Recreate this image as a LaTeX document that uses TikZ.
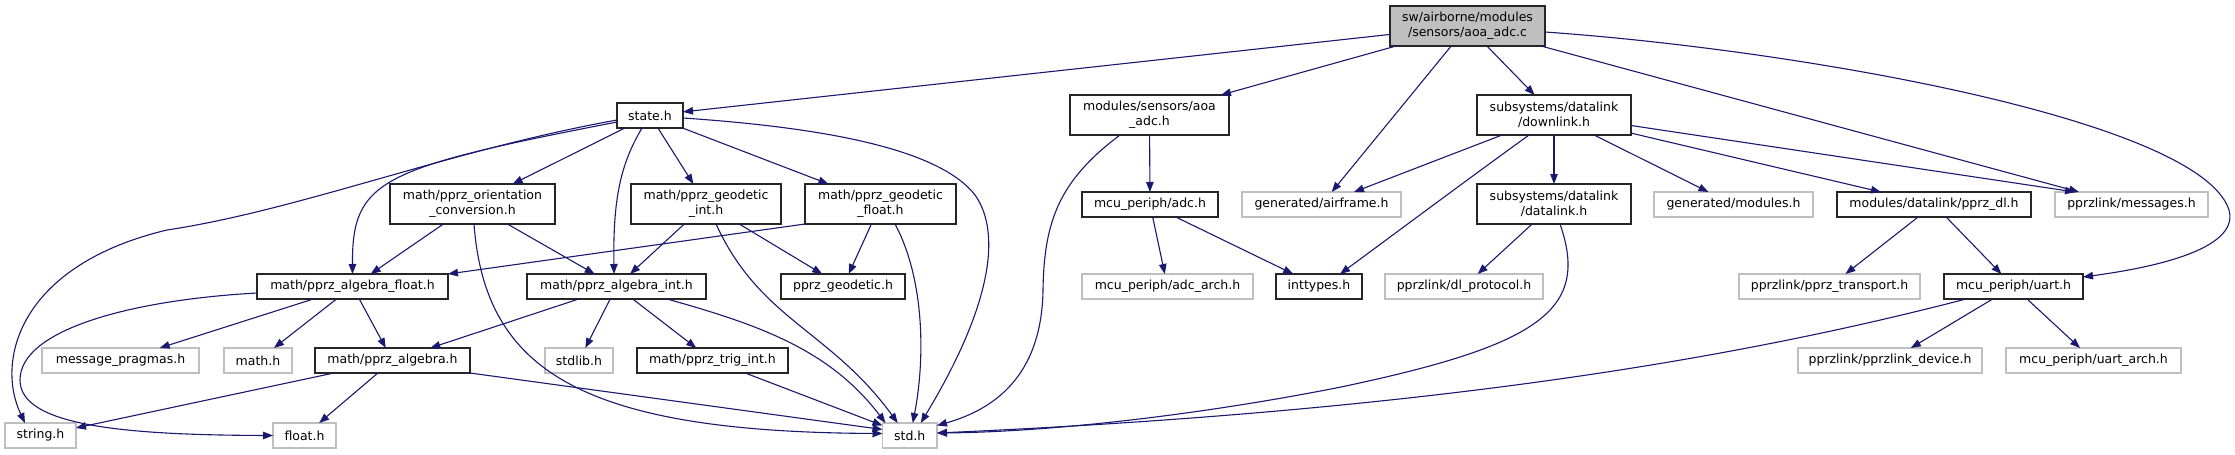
\documentclass[tikz,border=0pt]{standalone}
\usepackage{fontspec}
\setmainfont{DejaVu Sans}
\usetikzlibrary{arrows.meta}
\definecolor{edgec}{HTML}{191970}
\definecolor{greyb}{HTML}{BFBFBF}
\definecolor{rootfill}{HTML}{BFBFBF}
\begin{document}
\begin{tikzpicture}[x=1pt,y=-1pt,
  nodebox/.style={draw=black!85, line width=1.1pt, inner sep=0pt, outer sep=0pt, align=center,
    font=\fontsize{12.5}{14.6}\selectfont, text=black, minimum height=25pt},
  twoline/.style={minimum height=40pt},
  greybox/.style={nodebox, draw=greyb},
  rootbox/.style={nodebox, fill=rootfill, twoline},
  conn/.style={draw=edgec, line width=1.1pt, -{Triangle[length=10pt,width=7.5pt]}}
]
\path[use as bounding box, fill=white] (0,0) rectangle (2235,455);

% nodes
\node[rootbox, minimum width=155pt] (root) at (1467.5,26) {sw/airborne/modules\\/sensors/aoa\_adc.c};
\node[nodebox, minimum width=66pt] (state) at (650,115.5) {state.h};
\node[nodebox, twoline, minimum width=165pt] (orient) at (472.5,204) {math/pprz\_orientation\\\_conversion.h};
\node[nodebox, twoline, minimum width=150pt] (geoint) at (706,204) {math/pprz\_geodetic\\\_int.h};
\node[nodebox, twoline, minimum width=151pt] (geofloat) at (880.5,204) {math/pprz\_geodetic\\\_float.h};
\node[nodebox, minimum width=191pt] (algfloat) at (352.5,286.5) {math/pprz\_algebra\_float.h};
\node[nodebox, minimum width=179pt] (algint) at (616.5,286.5) {math/pprz\_algebra\_int.h};
\node[nodebox, minimum width=124pt] (geodetic) at (843,286.5) {pprz\_geodetic.h};
\node[greybox, minimum width=157pt] (msgprag) at (120.5,360.5) {message\_pragmas.h};
\node[greybox, minimum width=68pt] (mathh) at (258,360.5) {math.h};
\node[nodebox, minimum width=155pt] (alg) at (392.5,360.5) {math/pprz\_algebra.h};
\node[greybox, minimum width=68pt] (stdlib) at (579,360.5) {stdlib.h};
\node[nodebox, minimum width=151pt] (trig) at (712.5,360.5) {math/pprz\_trig\_int.h};
\node[greybox, minimum width=71pt] (string) at (40.5,435.5) {string.h};
\node[greybox, minimum width=63pt] (float) at (304.5,435.5) {float.h};
\node[greybox, minimum width=54.5pt] (std) at (909.75,435.5) {std.h};
\node[nodebox, twoline, minimum width=159pt] (aoaadc) at (1149.5,115) {modules/sensors/aoa\\\_adc.h};
\node[nodebox, minimum width=136pt] (adc) at (1150,204.5) {mcu\_periph/adc.h};
\node[greybox, minimum width=159pt] (airframe) at (1321.5,204.5) {generated/airframe.h};
\node[greybox, minimum width=171pt] (adcarch) at (1167.5,286.5) {mcu\_periph/adc\_arch.h};
\node[nodebox, minimum width=86pt] (inttypes) at (1319,286.5) {inttypes.h};
\node[nodebox, twoline, minimum width=154pt] (downlink) at (1554,115) {subsystems/datalink\\/downlink.h};
\node[nodebox, twoline, minimum width=154pt] (datalink) at (1554,204) {subsystems/datalink\\/datalink.h};
\node[greybox, minimum width=158pt] (dlproto) at (1464,286.5) {pprzlink/dl\_protocol.h};
\node[greybox, minimum width=159pt] (modules) at (1733.5,204.5) {generated/modules.h};
\node[nodebox, minimum width=194pt] (pprzdl) at (1934,204.5) {modules/datalink/pprz\_dl.h};
\node[greybox, minimum width=153pt] (messages) at (2131.5,204.5) {pprzlink/messages.h};
\node[greybox, minimum width=181pt] (transport) at (1829.5,286.5) {pprzlink/pprz\_transport.h};
\node[nodebox, minimum width=139pt] (uart) at (2013.5,286.5) {mcu\_periph/uart.h};
\node[greybox, minimum width=184pt] (device) at (1890,360.5) {pprzlink/pprzlink\_device.h};
\node[greybox, minimum width=175pt] (uartarch) at (2093.5,360.5) {mcu\_periph/uart\_arch.h};

% edges from root
\draw[conn] (root) -- (state);
\draw[conn] (root) -- (aoaadc);
\draw[conn] (root) -- (airframe);
\draw[conn] (root) -- (downlink);
\draw[conn] (root) -- ([xshift=24pt]messages.north west);
\draw[conn] ([yshift=-6pt]root.east) .. controls (1800,50) and (2200,120) .. (2229,210)
  .. controls (2240,250) and (2150,268) .. ([yshift=9.5pt]uart.east);

% edges from state.h
\draw[conn] (state) -- (orient);
\draw[conn] ([yshift=-6.5pt]state.west) .. controls (380,168) and (352,180) .. (algfloat.north);
\draw[conn] ([yshift=-4.5pt]state.west) .. controls (450,150) and (300,210) .. (167,230)
  .. controls (20,265) and (-5,360) .. ([xshift=-15.5pt]string.north);
\draw[conn] ([xshift=-8pt]state.south) .. controls (620,165) and (613,200) .. ([xshift=-2.5pt]algint.north);
\draw[conn] (state) -- (geoint);
\draw[conn] (state) -- (geofloat);
\draw[conn] ([yshift=-2.5pt]state.east) .. controls (830,128) and (940,150) .. (975,195)
  .. controls (1000,230) and (995,300) .. ([xshift=11pt]std.north);

% orientation
\draw[conn] (orient) -- (algfloat);
\draw[conn] (orient) -- (algint);
\draw[conn] ([xshift=1.5pt]orient.south) .. controls (485,370) and (580,432) .. ([yshift=2pt]std.west);

% geodetic int
\draw[conn] (geoint) -- (algint);
\draw[conn] (geoint) -- (geodetic);
\draw[conn] ([xshift=10pt]geoint.south) .. controls (760,320) and (830,330) .. ([xshift=-12pt]std.north);

% geodetic float
\draw[conn] (geofloat.south west) -- (algfloat.north east);
\draw[conn] (geofloat) -- (geodetic);
\draw[conn] ([xshift=14.5pt]geofloat.south) .. controls (925,280) and (925,360) .. ([xshift=3pt]std.north);

% algebra float
\draw[conn] (algfloat) -- (msgprag);
\draw[conn] (algfloat) -- (mathh);
\draw[conn] (algfloat) -- (alg);
\draw[conn] ([yshift=-6.5pt]algfloat.west) .. controls (130,300) and (20,330) .. (20,380)
  .. controls (20,425) and (120,435) .. (float.west);

% algebra int
\draw[conn] (algint) -- (alg);
\draw[conn] (algint) -- (stdlib);
\draw[conn] (algint) -- (trig);
\draw[conn] ([xshift=50.5pt]algint.south) .. controls (760,325) and (830,350) .. ([xshift=3pt]std.north west);

% algebra
\draw[conn] (alg) -- (string);
\draw[conn] (alg) -- (float);
\draw[conn] (alg.south east) -- ([yshift=6pt]std.west);

% trig
\draw[conn] (trig) -- ([yshift=10pt]std.west);

% aoa_adc.h
\draw[conn] (aoaadc) -- (adc);
\draw[conn] ([xshift=-29.5pt]aoaadc.south) .. controls (1060,180) and (1044,220) .. (1043,290)
  .. controls (1042,360) and (1010,405) .. ([yshift=10pt]std.east);

% adc.h
\draw[conn] (adc) -- (adcarch);
\draw[conn] (adc) -- (inttypes);

% downlink
\draw[conn] (downlink) -- (airframe);
\draw[conn] ([xshift=-25pt]downlink.south) .. controls (1460,185) and (1420,215) .. ([xshift=21pt]inttypes.north);
\draw[conn] (downlink) -- (datalink);
\draw[conn] (downlink) -- (modules);
\draw[conn] (downlink) -- (pprzdl);
\draw[conn] ([yshift=-10.5pt]downlink.east) -- ([xshift=20pt]messages.north west);

% datalink
\draw[conn] (datalink) -- (dlproto);
\draw[conn] ([xshift=6pt]datalink.south) .. controls (1590,310) and (1540,345) .. (1341,387)
  .. controls (1200,415) and (1050,432) .. ([yshift=2.5pt]std.east);

% pprz_dl
\draw[conn] (pprzdl) -- (transport);
\draw[conn] (pprzdl) -- (uart);

% uart
\draw[conn] ([xshift=-47.5pt]uart.south) .. controls (1750,355) and (1450,410) .. ([yshift=2.5pt]std.east);
\draw[conn] (uart) -- (device);
\draw[conn] (uart) -- (uartarch);
\end{tikzpicture}
\end{document}
